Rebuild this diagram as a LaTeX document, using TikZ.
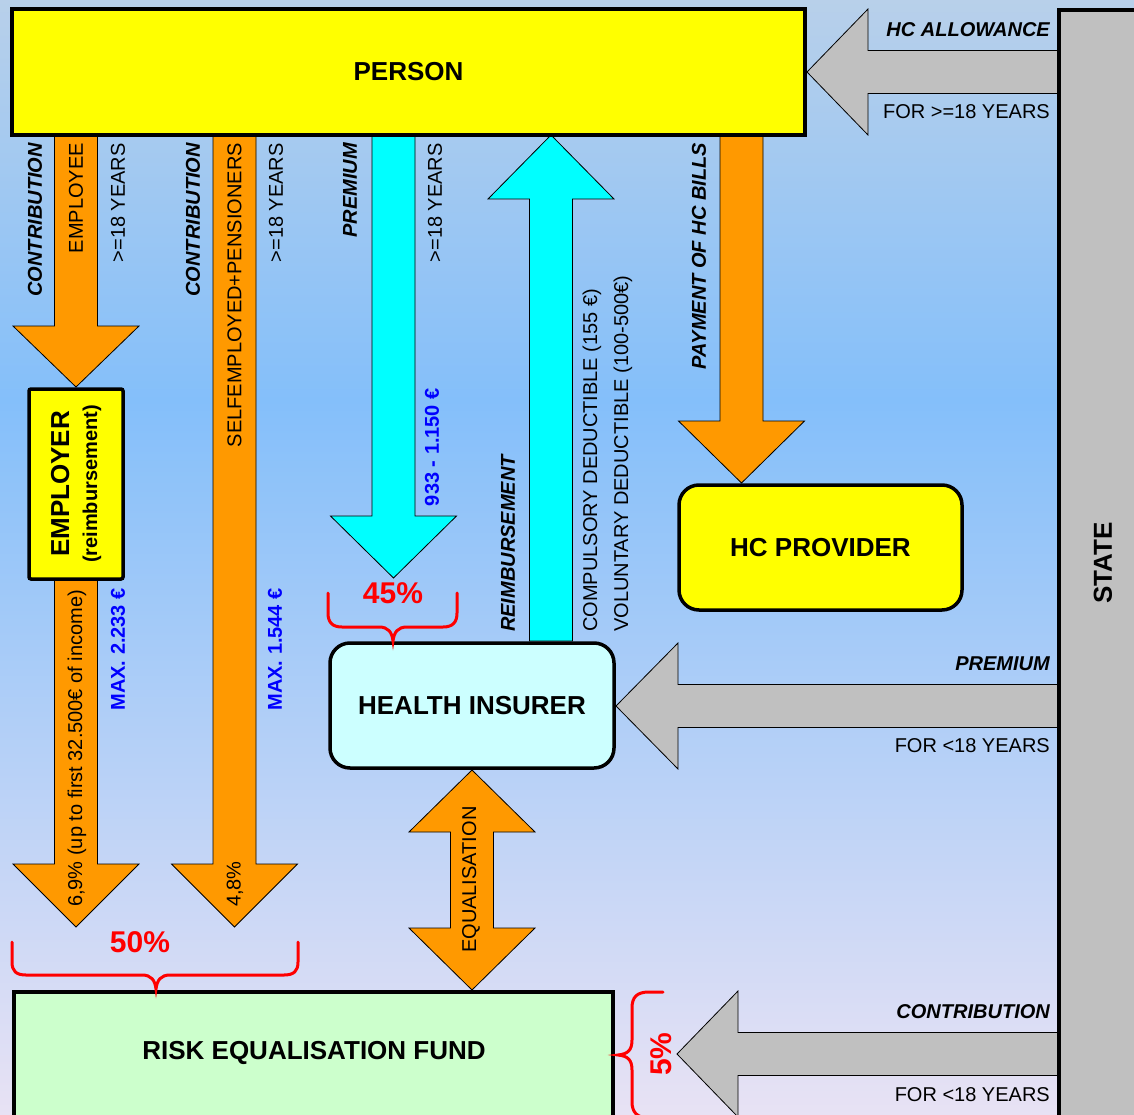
\documentclass[tikz,border=0pt]{standalone}
\usepackage{fontspec}
\setmainfont{Liberation Sans}
\definecolor{orng}{HTML}{FF9900}
\definecolor{cyn}{HTML}{00FFFF}
\definecolor{gry}{HTML}{C0C0C0}
\definecolor{yel}{HTML}{FFFF00}
\definecolor{hicyan}{HTML}{CCFFFF}
\definecolor{grn}{HTML}{CCFFCC}
\definecolor{bgtop}{HTML}{B8D0EA}
\definecolor{bgmid}{HTML}{84BFFA}
\definecolor{bgbot}{HTML}{E8E2F4}
\definecolor{lblue}{HTML}{0000FF}
\definecolor{lred}{HTML}{FF0000}
% vertical block arrow: fill, cx, ystart, yheadbase, ytip
\newcommand\myvarrow[5]{%
  \filldraw[arrowline, fill=#1] (#2-21.5,#3) -- (#2+21.5,#3) -- (#2+21.5,#4) -- (#2+63,#4) -- (#2,#5) -- (#2-63,#4) -- (#2-21.5,#4) -- cycle;}
% horizontal left block arrow: cy, xtip, xheadbase, xend
\newcommand\myharrow[4]{%
  \filldraw[arrowline, fill=gry] (#2,#1) -- (#3,#1-63) -- (#3,#1-21.5) -- (#4,#1-21.5) -- (#4,#1+21.5) -- (#3,#1+21.5) -- (#3,#1+63) -- cycle;}
\begin{document}
\begin{tikzpicture}[x=1pt,y=-1pt,
  lbl/.style={inner sep=0pt, font=\fontsize{20}{24}\selectfont},
  lblbi/.style={inner sep=0pt, font=\fontsize{20}{24}\selectfont\bfseries\itshape},
  lblblue/.style={inner sep=0pt, text=lblue, font=\fontsize{20}{24}\selectfont\bfseries},
  title/.style={font=\fontsize{26}{30}\selectfont\bfseries},
  pct/.style={text=lred, inner sep=0pt, font=\fontsize{30}{34}\selectfont\bfseries},
  box/.style={draw=black, line width=3.5pt},
  arrowline/.style={draw=black, line width=0.8pt},
  bracepath/.style={draw=lred, line width=3pt, line cap=round}]
\useasboundingbox (0,0) rectangle (1134,1115);
\clip (0,0) rectangle (1134,1115);
% background
\shade[top color=bgtop, bottom color=bgmid] (0,0) rectangle (1134,400);
\shade[top color=bgmid, bottom color=bgbot] (0,400) rectangle (1134,1115);

% block arrows
\myvarrow{orng}{76}{135}{326}{387}
\myvarrow{orng}{76}{579}{864}{927}
\myvarrow{orng}{234.5}{135}{864}{927}
\myvarrow{cyn}{393.5}{135}{516}{578}
\myvarrow{cyn}{551}{641}{199}{135}
\myvarrow{orng}{741.5}{135}{421}{483}
\filldraw[arrowline, fill=orng] (472,770) -- (535,832) -- (493.5,832) -- (493.5,928) -- (535,928) -- (472,990) -- (409,928) -- (450.5,928) -- (450.5,832) -- (409,832) -- cycle;
\myharrow{72}{807}{868}{1059}
\myharrow{706}{616}{678}{1059}
\myharrow{1054}{677}{738}{1059}

% boxes
\node[box, fill=yel, minimum width=793, minimum height=126, title] (person) at (408.5,72) {PERSON};
\draw[box, fill=gry] (1059,10) rectangle (1170,1140);
\node[title, rotate=90] (state) at (1103,563) {STATE};
\node[box, fill=yel, rounded corners=2pt, rotate=90, minimum width=190, minimum height=94, align=center, inner sep=0pt,
  font=\fontsize{26}{28}\selectfont\bfseries] (employer) at (76,484)
  {EMPLOYER\\{\fontsize{20}{24}\selectfont(reimbursement)}};
\node[box, fill=hicyan, rounded corners=20pt, minimum width=284, minimum height=125, title] (insurer) at (472,705.5) {HEALTH INSURER};
\node[box, fill=yel, rounded corners=20pt, minimum width=283, minimum height=125, title] (provider) at (820.5,547.5) {HC PROVIDER};
\draw[box, fill=grn] (14,992) rectangle (613,1140);
\node[title] (fund) at (314,1053) {RISK EQUALISATION FUND};

% braces
\draw[bracepath] (12,942) -- (12,962) .. controls (12,971) and (16,975) .. (26,975) -- (142,975) .. controls (151,975) and (155,980) .. (156,989) .. controls (157,980) and (161,975) .. (170,975) -- (284,975) .. controls (294,975) and (298,971) .. (298,962) -- (298,942);
\draw[bracepath] (328,593) -- (328,613) .. controls (328,622) and (332,627) .. (342,627) -- (379,627) .. controls (388,627) and (392,632) .. (393,641) .. controls (394,632) and (398,627) .. (407,627) -- (443,627) .. controls (453,627) and (457,622) .. (457,613) -- (457,593);
\draw[bracepath] (663,992) -- (649,992) .. controls (637,992) and (632,997) .. (632,1008) -- (632,1040) .. controls (632,1050) and (628,1054) .. (618,1055) .. controls (628,1056) and (632,1060) .. (632,1070) -- (632,1102) .. controls (632,1112) and (637,1118) .. (649,1118) -- (663,1118);
\node[pct] (p50) at (140,942) {50\%};
\node[pct] (p45) at (393,593) {45\%};
\node[pct, rotate=90] (p5) at (661,1054) {5\%};

% labels of the left arrows
\node[lblbi, rotate=90, anchor=east] (c1) at (35,143) {CONTRIBUTION};
\node[lbl, rotate=90, anchor=east] (emp) at (76,143) {EMPLOYEE};
\node[lbl, rotate=90, anchor=east] (y1) at (118,143) {>=18 YEARS};
\node[lblbi, rotate=90, anchor=east] (c2) at (193,143) {CONTRIBUTION};
\node[lbl, rotate=90, anchor=east] (self) at (234.5,143) {SELFEMPLOYED+PENSIONERS};
\node[lbl, rotate=90, anchor=east] (y2) at (276,143) {>=18 YEARS};
\node[lblblue, rotate=90, anchor=east] (m1) at (118,588) {MAX. 2.233 €};
\node[lblblue, rotate=90, anchor=east] (m2) at (275,588) {MAX. 1.544 €};
\node[lbl, rotate=90, anchor=west] (r69) at (77,907) {6,9\% (up to first 32.500€ of income)};
\node[lbl, rotate=90, anchor=west] (r48) at (235,907) {4,8\%};

% premium / reimbursement
\node[lblbi, rotate=90, anchor=east] (prem) at (350,143) {PREMIUM};
\node[lbl, rotate=90, anchor=east] (y3) at (435,143) {>=18 YEARS};
\node[lblblue, rotate=90, anchor=east] (amt) at (432,388) {933 - 1.150 €};
\node[lblbi, rotate=90, anchor=west] (reimb) at (508,632) {REIMBURSEMENT};
\node[lbl, rotate=90, anchor=west] (comp) at (592,632) {COMPULSORY DEDUCTIBLE (155 €)};
\node[lbl, rotate=90, anchor=west] (vol) at (623,632) {VOLUNTARY DEDUCTIBLE (100-500€)};
\node[lbl, rotate=90, anchor=west] (equal) at (471,953) {EQUALISATION};
\node[lblbi, rotate=90, anchor=east] (pay) at (699,143) {PAYMENT OF HC BILLS};

% state arrows labels
\node[lblbi, anchor=east] (a1) at (1050,30) {HC ALLOWANCE};
\node[lbl, anchor=east] (a2) at (1050,112) {FOR >=18 YEARS};
\node[lblbi, anchor=east] (b1) at (1050,664) {PREMIUM};
\node[lbl, anchor=east] (b2) at (1050,746) {FOR <18 YEARS};
\node[lblbi, anchor=east] (d1) at (1050,1012) {CONTRIBUTION};
\node[lbl, anchor=east] (d2) at (1050,1095) {FOR <18 YEARS};
\end{tikzpicture}
\end{document}
